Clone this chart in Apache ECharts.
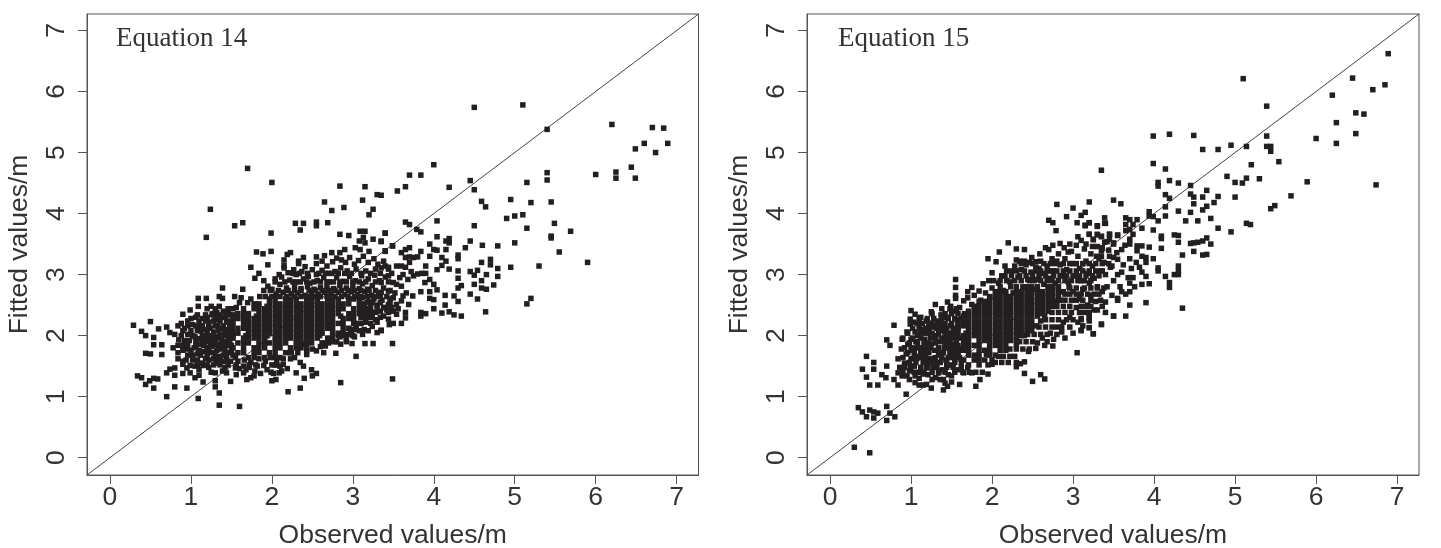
<!DOCTYPE html>
<html><head><meta charset="utf-8">
<style>html,body{margin:0;padding:0;background:#fff}#c{width:1441px;height:548px}</style>
<script src="https://cdn.jsdelivr.net/npm/echarts@6/dist/echarts.min.js"></script>
</head><body><div id="c"></div>
<script>
const tickLabels = [0,1,2,3,4,5,6,7];
const panelTitles = ['Equation 14','Equation 15'];
const xName = 'Observed values/m';
const yName = 'Fitted values/m';
const axisRange = [-0.284, 7.27];
const diagonal = [[-0.284,-0.284],[7.28,7.28]];

// Equation 14: scattered points [observed, fitted]
const scatter14 = [
[4.50,5.74],[5.10,5.78],[5.40,5.38],[6.20,5.46],[6.70,5.41],[6.84,5.40],[6.89,5.15],[6.60,5.15],[6.49,5.06],[6.74,5.00],[6.44,4.76],[6.49,4.58],[6.25,4.68],[6.25,4.58],[6.00,4.64],[5.40,4.67],[5.40,4.55],[5.15,4.51],[4.00,4.80],[3.84,4.63],[3.70,4.63],[3.65,4.44],[3.55,4.37],[3.35,4.30],[4.19,4.43],[4.45,4.54],[4.50,4.39],[4.59,4.20],[4.64,4.11],[4.95,4.23],[5.20,4.18],[5.45,4.19],[4.90,3.92],[5.00,3.96],[5.10,3.98],[5.15,3.76],[5.49,3.84],[5.69,3.71],[5.45,3.63],[5.45,3.60],[5.55,3.37],[5.90,3.20],[5.30,3.14],[5.20,2.61],[5.15,2.52],[4.95,3.12],[4.79,3.10],[4.79,2.97],[4.74,2.83],[4.79,3.47],[5.00,3.52],[4.60,3.48],[4.50,3.80],[4.04,3.88],[4.64,2.39],[4.54,2.60],[4.34,2.32],[4.25,2.34],
[1.70,4.74],[2.00,4.51],[2.84,4.45],[3.15,4.44],[3.30,4.31],[3.12,4.22],[1.24,4.07],[1.19,3.61],[1.54,3.80],[1.64,3.85],[2.65,4.19],[2.74,4.05],[2.89,4.10],[3.25,4.07],[3.20,3.98],[2.29,3.84],[2.39,3.84],[2.35,3.73],[2.55,3.86],[2.55,3.80],[2.69,3.85],[1.99,3.68],[2.84,3.66],[2.95,3.64],[3.09,3.71],[3.15,3.71],[3.40,3.68],[3.35,3.55],[3.25,3.58],[3.13,3.61],[3.08,3.55],[3.15,3.52],[3.03,3.44],[3.09,3.41],[3.20,3.38],[3.40,3.38],[3.49,3.47],[2.90,3.41],[2.84,3.36],[2.74,3.36],[2.65,3.31],[2.55,3.29],[2.39,3.28],[2.23,3.36],[2.19,3.33],[1.99,3.38],[1.89,3.34],[1.81,3.37],[1.95,3.16],[1.74,3.12],[1.84,3.02],[1.79,2.94],[2.15,3.15],[2.15,3.11],[2.33,3.22],[2.09,3.00],[2.04,2.93],[1.90,2.90],[1.95,2.81],[1.39,2.78],[1.64,2.76],[1.09,2.61],[1.19,2.61],[1.09,2.48],[0.99,2.42],[0.90,2.35],[1.35,2.64],[1.39,2.61],[1.25,2.48],[1.35,2.48],[1.54,2.64],[1.62,2.62],[1.74,2.60],[1.85,2.64],
[0.50,2.23],[0.29,2.17],[0.60,2.11],[0.70,2.14],[0.39,2.07],[0.44,2.00],[0.54,1.97],[0.54,1.85],[0.64,1.85],[0.74,2.05],[0.44,1.71],[0.50,1.70],[0.64,1.69],[0.34,1.34],[0.39,1.31],[0.54,1.30],[0.59,1.29],[0.49,1.26],[0.44,1.20],[0.54,1.14],[0.80,1.16],[0.95,1.14],[0.70,1.00],[1.09,0.97],[1.35,0.86],[1.60,0.84],[1.35,1.06],[1.30,1.16],[2.20,1.08],[2.35,1.14],[2.85,1.23],[3.49,1.29],[3.04,1.66],[3.49,1.87],[2.79,1.71],[3.25,1.87],[3.15,1.87],[3.35,2.08],[3.30,2.05],[3.19,2.08],[2.99,1.87],
[0.70,1.39],[0.74,1.45],[0.80,1.47],[0.80,1.35],[0.90,1.53],[0.90,1.38],[0.95,1.47],[0.99,1.51],[0.99,1.39],[1.05,1.50],[1.05,1.31],[1.10,1.35],[1.15,1.24],[1.15,1.51],[1.25,1.40],[1.30,1.39],[1.30,1.26],[1.39,1.42],[1.44,1.39],[1.49,1.25],[1.55,1.47],[1.65,1.50],[1.65,1.39],[1.69,1.28],[1.74,1.31],[1.79,1.42],[1.90,1.51],[1.99,1.40],[2.00,1.26],[2.05,1.28],[2.09,1.39],[2.10,1.50],[2.14,1.53],[2.19,1.46],[2.30,1.39],[2.40,1.30],[2.39,1.50],[2.35,1.56],[2.49,1.44],[2.50,1.34],[2.55,1.38],[2.23,1.62],[2.43,1.69],[2.55,1.75],[2.64,1.72],[2.66,1.83],[2.43,1.75],[2.85,1.86],[2.92,1.95],[3.02,1.98],[3.12,2.02],
[3.35,3.54],[3.40,3.68],[3.49,3.47],[3.40,3.39],[3.65,3.86],[3.70,3.82],[3.79,3.74],[3.84,3.70],[4.04,3.62],[4.15,3.55],[4.19,3.59],[4.19,3.52],[4.45,3.55],[4.39,3.44],[3.95,3.50],[4.00,3.41],[4.04,3.40],[4.15,3.41],[3.84,3.38],[3.70,3.44],[3.65,3.41],[3.60,3.36],[3.65,3.28],[3.70,3.29],[3.75,3.28],[3.80,3.29],[3.95,3.30],[4.10,3.28],[4.15,3.22],[4.30,3.32],[4.30,3.26],[4.70,3.25],[4.70,3.16],[4.59,3.20],[4.10,3.15],[3.90,3.14],[4.04,3.08],[4.19,3.09],[4.30,3.06],[4.45,3.05],[4.54,3.07],[4.65,3.00],[4.50,2.99],[4.30,2.94],[4.59,2.90],[4.50,2.84],[4.34,2.82],[4.30,2.78],[4.59,2.78],[4.65,2.76],[4.04,2.75],[3.95,2.72],[3.84,2.72],[3.74,2.65],[4.14,2.66],[4.25,2.65],[4.45,2.68],[4.30,2.56],[3.95,2.61],[4.00,2.59],[4.14,2.50],[4.00,2.44],[4.10,2.37],[4.19,2.39],[3.84,2.38],[3.90,2.36],[3.84,2.32],[3.65,2.38],[3.65,2.29],[3.60,2.20],[3.35,2.09],[3.75,2.98],[3.80,3.01],[3.85,3.02],[3.90,3.02],[3.95,2.92],[3.89,2.87],[4.00,2.84],[3.54,3.14],[3.60,3.14],[3.65,3.12],[3.70,3.20],[3.40,3.14],[3.44,3.09],[3.44,2.98],[3.35,3.11],[3.50,2.87],[3.54,2.84],[3.60,2.81],[3.35,2.87],[3.35,2.71],[3.44,2.73],[3.50,2.62],[3.60,2.57],[3.54,2.51],[3.69,2.51],[3.44,2.51],[3.50,2.40],[3.44,2.27],[3.54,2.35],[3.72,3.05],[3.58,2.95],[3.66,2.70],[3.62,2.65],[3.56,2.44],[3.42,2.42],[3.38,2.32],[3.30,2.22],[3.24,2.15],[3.45,2.18],[3.50,2.20],[3.68,2.92],[3.62,3.00],[3.48,3.02],[3.52,2.70],[3.46,2.60]
];
// Equation 14: top of the cloud
const upper14 = [[2.15,3.24],[2.33,3.18],[2.41,3.13],[2.27,3.08],[2.20,3.03],[2.30,3.00],[2.37,3.05],[2.45,2.97],[2.55,3.18],[2.62,3.22],[2.68,3.14],[2.75,3.21],[2.80,3.27],[2.86,3.24],[2.91,3.20],[2.96,3.28],[3.02,3.17],[3.07,3.23],[3.13,3.30],[3.19,3.20],[3.26,3.26],[3.31,3.17],[3.38,3.22],[3.44,3.12],[3.28,3.09],[3.16,3.06],[3.04,3.09],[2.93,3.06],[2.85,3.11],[2.78,3.05],[2.70,3.02],[2.62,3.07],[2.55,3.00],[2.50,3.08],[2.12,2.96],[2.22,2.91],[2.30,2.88],[2.39,2.93],[2.47,2.86],[2.56,2.90],[2.64,2.95],[2.71,2.88],[2.80,2.95],[2.88,2.89],[2.96,2.97],[3.03,2.90],[3.11,2.98],[3.19,2.93],[3.27,2.99],[3.33,2.90],[3.40,2.96],[3.12,2.85],[3.24,2.82],[3.00,2.81],[2.92,2.78],[2.84,2.82],[2.76,2.77],[2.68,2.80],[2.60,2.79],[2.52,2.76],[2.44,2.80],[2.36,2.77],[2.28,2.81],[2.18,2.78],[2.10,2.84],[2.00,2.76],[1.90,2.74],[2.05,2.68],[2.14,2.71],[2.24,2.69],[2.32,2.70],[2.41,2.66],[2.49,2.69],[2.57,2.68],[2.65,2.71],[2.73,2.68],[2.82,2.71],[2.90,2.67],[2.98,2.72],[3.06,2.67],[3.15,2.72],[3.23,2.66],[3.32,2.70],[3.38,2.78],[3.42,2.64],[3.08,2.77],[3.18,2.76],
[3.12,2.62],[3.20,2.56],[3.26,2.60],[3.30,2.50],[3.18,2.44],[3.24,2.38],[3.14,2.30],[3.20,2.30],[3.10,2.20],[3.16,2.22],[3.28,2.26],[3.04,2.14],[3.08,2.08],[3.34,2.40],[3.40,2.46],[3.36,2.58],[2.98,2.08],[2.94,2.02],[2.84,1.98],[2.78,1.90],[2.70,1.88],[2.60,1.82],[2.50,1.78],[2.40,1.86],[2.32,1.72],[2.28,1.64],[2.14,1.62],[2.24,1.72],
[1.58,1.58],[1.66,1.60],[1.74,1.56],[1.84,1.62],[1.92,1.58],[1.98,1.64],[2.06,1.60],[1.60,1.46],[1.72,1.48],[1.82,1.50],[1.94,1.44],[2.04,1.52],[2.12,1.42],[1.56,1.36],[1.68,1.44],[1.86,1.38],[1.78,1.34],[2.02,1.38]];
// Equation 14: left wing of the cloud
const wing14 = [[0.80,2.02],[0.85,1.93],[0.78,1.80],[0.84,1.72],[0.90,1.84],[0.92,2.12],[0.88,2.20],[0.96,2.02],[0.98,1.92],[1.02,2.18],[1.04,1.80],[0.96,1.68],[1.02,1.60],[0.90,1.58],[0.84,1.62],[1.08,1.70],[1.10,1.95],[1.08,2.08],[1.14,2.28],[1.12,1.86],[1.16,2.10],[1.18,2.00],[1.20,1.80],[1.18,1.62],[1.14,1.55],[1.22,2.22],[1.24,1.92],[1.26,1.72],[1.27,2.36],[1.28,2.06],[1.30,1.85],[1.31,1.55],[1.33,2.16],[1.35,1.96],[1.36,1.66],[1.37,2.30],[1.38,1.78],[1.40,2.40],[1.41,2.06],[1.42,1.48],[1.43,1.90],[1.44,2.22],[1.46,1.72],[1.47,2.00],[1.48,2.34],[1.49,1.58],[1.50,1.84],[1.51,2.12],[1.52,2.44],[1.10,1.44],[1.06,2.30],[1.22,1.48],[1.34,2.26],[1.16,1.74],[0.94,1.78],[1.00,2.28],[1.28,1.62],[1.40,1.58],[1.45,2.10],[1.38,2.12],[1.24,2.12],[1.12,2.16],[1.05,1.98],[1.20,2.30],[1.32,2.38],[1.42,2.30],[1.30,1.98],[1.36,1.86],[1.44,1.66],[1.48,1.92],[1.26,1.82],[1.18,1.90]];
// Equation 14: dark centre and its surroundings, one row per fitted value
const fitted14 = [2.60,2.52,2.44,2.36,2.28,2.20,2.12,2.04,1.96,1.88,1.80,1.72,1.64,
  3.02,2.88,2.74,2.64,2.54,2.46,2.38,2.30,2.20,2.10,2.00,1.90,
  2.44,2.34,2.24,2.16,2.08,2.00,1.92,1.84,1.76,1.68,1.60,1.52,
  2.48,2.32,2.16,2.00];
const observed14 = [
[1.97,2.04,2.17,2.23,2.30,2.43,2.49,2.56,2.69,2.75,2.82,2.95,3.01,3.08],
[1.78,1.84,1.97,2.04,2.10,2.17,2.23,2.30,2.36,2.43,2.49,2.56,2.62,2.69,2.75,2.82,2.88,2.95,3.08,3.14],
[1.65,1.78,1.84,1.91,1.97,2.04,2.10,2.17,2.23,2.30,2.36,2.43,2.49,2.56,2.62,2.69,2.75,2.82,2.88,3.01,3.08],
[1.58,1.65,1.71,1.84,1.91,1.97,2.04,2.10,2.17,2.23,2.30,2.36,2.43,2.49,2.56,2.62,2.69,2.75,2.82,2.95,3.01,3.08],
[1.52,1.58,1.65,1.71,1.78,1.84,1.91,1.97,2.04,2.10,2.17,2.23,2.30,2.36,2.43,2.49,2.56,2.62,2.69,2.75,2.88,2.95,3.01],
[1.52,1.65,1.71,1.78,1.84,1.91,1.97,2.04,2.10,2.17,2.23,2.30,2.36,2.43,2.49,2.56,2.62,2.69,2.75,2.82,2.88,3.01],
[1.58,1.65,1.71,1.78,1.84,1.91,1.97,2.04,2.10,2.17,2.23,2.30,2.36,2.43,2.49,2.56,2.62,2.69,2.75,2.88,2.95],
[1.52,1.58,1.71,1.78,1.84,1.91,1.97,2.04,2.10,2.17,2.23,2.30,2.36,2.43,2.49,2.56,2.62,2.75,2.82,2.88],
[1.52,1.65,1.71,1.78,1.84,1.91,2.04,2.10,2.17,2.23,2.30,2.36,2.43,2.49,2.56,2.69,2.75],
[1.58,1.65,1.71,1.84,1.91,1.97,2.04,2.10,2.17,2.30,2.36,2.43,2.49,2.62,2.65],
[1.52,1.65,1.78,1.84,1.91,2.04,2.10,2.23,2.30,2.36,2.43],
[1.58,1.65,1.78,1.84,1.97,2.04,2.17,2.23],
[1.55,1.71,1.78,1.91,2.10,2.04],
[2.26,2.34,2.44,2.58,2.66,2.74,2.82,2.90,2.98,3.10,3.22,3.34],
[2.04,2.16,2.26,2.35,2.43,2.52,2.60,2.68,2.76,2.84,2.92,3.00,3.08,3.16,3.28,3.44],
[1.98,2.08,2.20,2.28,2.36,2.46,2.54,2.62,2.70,2.78,2.86,2.94,3.02,3.10,3.20,3.28,3.46],
[1.92,2.00,2.10,2.18,2.28,2.36,2.46,2.53,2.60,2.68,2.78,2.86,2.94,3.02,3.10,3.18,3.28,3.34],
[1.60,1.70,3.18,3.24,3.34,3.46],
[1.56,3.14,3.22,3.30,3.38,3.48],
[1.46,3.12,3.18,3.28,3.44],
[1.40,1.30,3.10,3.16,3.24,3.34],
[3.04,3.10,3.22],
[2.98,3.04,3.14],
[2.82,2.90,3.00],
[2.72,2.80,2.92],
[1.20,1.30,1.46],
[1.08,1.18,1.26,1.36,1.44,1.52],
[0.96,1.10,1.18,1.28,1.36,1.46],
[0.84,0.96,1.06,1.14,1.22,1.30,1.40,1.48],
[0.90,1.00,1.12,1.20,1.34,1.44,1.50],
[0.88,1.02,1.14,1.24,1.36,1.42,1.52],
[0.92,1.06,1.14,1.20,1.30,1.38,1.46],
[0.84,0.96,1.06,1.16,1.24,1.34,1.42,1.46],
[0.90,1.00,1.10,1.22,1.32,1.42,1.50],
[1.02,1.12,1.20,1.30,1.40,1.52],
[0.94,1.08,1.22,1.34,1.44],
[1.08,1.20,1.28,1.36,1.46,1.56,1.72,1.80,2.00,2.06],
[1.81,1.94,2.07,2.20,2.33,2.46,2.59,2.72],
[1.68,1.81,1.94,2.07,2.20,2.33,2.46,2.59,2.72,2.85],
[1.68,1.81,1.94,2.07,2.20,2.33,2.46,2.59,2.72],
[1.68,1.81,1.94,2.07,2.20,2.33,2.46,2.59]
];

// Equation 15: scattered points [observed, fitted]
const scatter15 = [
[6.89,6.62],[6.45,6.22],[6.85,6.11],[6.70,6.03],[6.20,5.94],[6.49,5.65],[6.59,5.63],[6.25,5.49],[6.49,5.31],[6.25,5.15],[6.00,5.23],[6.74,4.47],[5.89,4.52],[5.69,4.29],[5.49,4.13],[5.44,4.08],[5.54,4.85],[5.39,5.76],[5.10,6.21],[5.39,5.27],[5.39,5.10],[5.44,5.10],[5.44,5.02],[5.20,4.80],[5.14,5.10],[4.95,5.12],[4.79,5.05],[4.60,5.05],[4.49,5.28],[4.19,5.30],[3.99,5.27],[3.99,4.82],[4.14,4.73],[3.35,4.71],[4.19,4.54],[4.05,4.51],[4.05,4.45],[4.30,4.50],[4.45,4.46],[4.90,4.61],[5.00,4.51],[5.09,4.50],[5.14,4.58],[5.30,4.57],[4.65,4.38],[4.45,4.32],[4.49,4.27],[4.60,4.27],[4.79,4.28],[5.00,4.27],[4.74,4.18],[4.49,4.16],[4.14,4.31],[4.19,4.25],[4.14,4.11],[4.65,4.12],[4.60,4.06],[4.45,4.02],[4.30,4.04],[4.14,3.96],[4.70,3.92],[4.54,3.88],[4.39,3.88],[4.05,3.88],[3.94,4.03],[3.94,3.96],[3.99,3.95],[5.14,3.84],[5.19,3.82],[4.79,3.76],[4.95,3.70],[3.99,3.73],[4.25,3.65],[4.30,3.64],[4.09,3.63],[4.09,3.59],[4.30,3.53],[4.09,3.43],[4.45,3.51],[4.49,3.52],[4.54,3.53],[4.60,3.55],[4.65,3.60],[4.70,3.50],[4.49,3.38],[4.60,3.32],[4.65,3.33],[4.35,3.32],[3.94,3.45],[3.99,3.26],[4.05,3.11],[4.05,3.06],[4.30,3.14],[4.30,3.06],[4.25,3.00],[4.30,3.00],[4.14,2.97],[4.19,2.87],[4.19,2.79],[3.94,2.85],[3.85,2.84],[3.74,2.95],[3.70,2.86],[3.90,2.97],[3.85,3.04],[3.90,2.54],[4.35,2.45],[3.70,2.50],[3.65,2.68],[3.65,2.32],[3.50,2.32],[3.35,2.19],[3.20,2.30],[3.20,2.13],[3.25,2.03],[3.10,2.09],[3.10,2.28],
[3.20,4.19],[3.50,4.22],[3.59,4.16],[3.65,3.93],[3.70,3.90],[3.79,3.90],[3.39,3.93],[3.39,3.84],[3.20,3.85],[3.15,3.80],[3.30,3.79],[3.65,3.82],[3.65,3.72],[3.74,3.82],[3.85,3.76],[3.70,3.74],[3.74,3.66],[3.20,3.66],[3.25,3.57],[3.30,3.65],[3.35,3.62],[3.45,3.66],[3.45,3.58],[3.55,3.64],[3.39,3.53],[3.50,3.52],[3.70,3.58],[3.64,3.48],[3.70,3.50],[3.79,3.47],[3.85,3.47],[3.60,3.41],[3.35,3.39],[3.54,3.36],[3.45,3.30],[3.35,3.30],[3.29,3.30],[3.70,3.26],[3.79,3.39],[3.85,3.30],[3.90,3.28],[3.90,3.20],[3.55,3.25],[3.62,3.16],[3.72,3.10],[3.60,3.04],[3.48,3.14],[3.55,3.00],[3.68,2.95],[3.78,3.20],[3.82,3.12],[3.50,2.90],[3.58,2.80],[3.42,2.80],[3.48,2.66],[3.55,2.58],[3.40,2.55],[3.30,2.42],[3.36,2.48],[3.60,2.72],[3.70,2.72],[3.76,2.80],
[0.30,0.17],[0.49,0.08],[0.35,0.82],[0.40,0.75],[0.45,0.67],[0.49,0.78],[0.54,0.75],[0.59,0.73],[0.54,0.65],[0.70,0.84],[0.74,0.73],[0.80,0.67],[0.70,0.61],[0.94,1.04],[0.45,1.66],[0.40,1.45],[0.54,1.56],[0.54,1.45],[0.45,1.32],[0.49,1.19],[0.59,1.19],[0.70,1.50],[0.64,1.36],[0.69,1.31],[0.79,2.17],[0.70,1.93],[0.74,1.84],[0.89,1.94],[1.00,2.41],[1.05,2.35],[0.99,2.27],[0.99,2.19],[0.95,2.06],[1.05,2.06],[1.00,1.94],[1.25,2.39],[1.30,2.51],[1.14,2.20],[1.19,2.24],[1.26,2.20],[1.30,2.16],[1.40,2.19],[1.45,2.55],[1.49,2.48],[1.55,2.92],[1.55,2.79],[1.55,2.66],[1.55,2.61],[1.65,2.57],[1.70,2.62],[1.75,2.79],[1.75,2.51],[1.84,2.73],[1.89,2.85],[1.95,3.26],[2.05,3.21],[2.00,3.03],[2.09,3.37],[2.20,3.52],[2.30,3.42],[2.40,3.41],[2.30,3.24],[2.40,3.22],[2.49,3.28],[2.59,3.34],[2.54,3.21],[2.70,3.41],[2.75,3.48],[2.84,3.51],[2.89,3.44],[2.94,3.37],[2.70,3.89],[2.75,3.85],[2.79,3.72],[3.05,3.85],[3.15,3.81],[3.20,3.85],[3.30,3.80],[3.40,3.84],[3.20,3.66],[3.25,3.58],[3.30,3.66],[3.35,3.63],[3.45,3.66],[3.55,3.65],[3.50,3.50],[2.80,4.15],[3.00,4.09],[2.92,3.95],[3.10,3.97],[3.15,4.02],
[0.79,1.28],[0.84,1.19],[1.05,1.23],[1.10,1.19],[1.15,1.19],[1.19,1.20],[1.25,1.14],[1.40,1.11],[1.45,1.17],[1.60,1.20],[1.80,1.17],[1.85,1.28],[1.95,1.37],[1.65,1.39],[1.75,1.39],[2.40,1.38],[2.30,1.49],[2.35,1.54],[2.40,1.57],[2.50,1.25],[2.60,1.36],[2.65,1.29],[3.05,1.72],[2.65,1.84],[2.75,1.83],[2.54,1.79],[2.45,1.74],[2.90,1.96],[3.00,2.04],[3.10,2.08],[3.20,2.13],[3.25,2.03],[3.35,2.18],[3.20,2.29],[3.20,2.24],[3.50,2.32],[3.40,2.38],[3.55,2.61],[2.00,1.53],[1.93,1.69],[1.36,1.28],[1.30,1.31],[1.40,1.28],[1.50,1.34],[1.34,1.39],[1.15,1.37],[1.05,1.34],[0.95,1.34],[0.84,1.39],[0.89,1.34],[1.19,1.47],[0.99,1.50]
];
// Equation 15: top and lower right of the cloud
const upper15 = [[1.70,2.72],[1.78,2.66],[1.86,2.58],[1.92,2.70],[1.96,2.90],[2.00,2.78],[2.04,2.62],[2.08,2.86],[2.12,2.98],[2.14,2.74],[2.18,3.06],[2.22,2.88],[2.26,2.70],[2.28,3.14],[2.32,2.96],[2.36,3.08],[2.38,2.80],[2.42,3.16],[2.44,2.92],[2.48,3.04],[2.50,2.76],[2.54,3.12],[2.56,2.92],[2.60,3.22],[2.62,3.02],[2.64,2.84],[2.68,3.14],[2.70,2.94],[2.74,3.26],[2.76,3.06],[2.78,2.86],[2.82,3.34],[2.84,3.16],[2.86,2.98],[2.90,3.26],[2.92,3.08],[2.94,2.88],[2.98,3.38],[3.00,3.18],[3.02,2.98],[3.06,3.30],[3.08,3.10],[3.10,2.90],[3.14,3.42],[3.16,3.22],[3.18,3.02],[3.22,3.34],[3.24,3.14],[3.26,2.94],[3.30,3.46],[3.32,3.26],[3.34,3.06],[3.38,3.20],[3.40,3.00],[3.44,3.40],[3.46,3.12],[3.50,3.28],[3.04,3.48],[3.10,3.56],[3.16,3.50],[3.06,3.62],[2.96,3.50],[3.24,3.46],[3.36,3.44],[3.42,3.54],[2.66,3.44],[2.80,3.22],[2.72,3.06],[2.58,3.10],[2.46,3.20],[2.34,3.22],[2.16,3.14],[3.20,2.86],[3.30,2.80],[3.12,2.76],[3.22,2.66],[3.28,2.56],[3.36,2.72],[3.18,2.50],[3.08,2.60],[3.00,2.72],[3.26,2.42],[3.14,2.38],[3.04,2.46],[2.96,2.30],[3.06,2.22],[3.12,2.16],[2.88,2.22],[2.96,2.14],[2.80,2.14],[2.86,2.06],[2.72,2.04],[2.76,1.94],[2.62,1.96],[2.56,1.88]];
// Equation 15: left wing of the cloud
const wing15 = [[0.84,1.62],[0.88,1.78],[0.86,1.48],[0.92,1.55],[0.94,1.70],[0.96,1.86],[0.98,1.42],[1.00,1.62],[1.02,1.76],[1.04,1.50],[1.06,1.90],[1.08,2.00],[1.09,1.66],[1.10,1.40],[1.12,1.80],[1.14,2.10],[1.15,1.56],[1.17,1.94],[1.18,1.72],[1.20,2.28],[1.21,1.36],[1.22,2.04],[1.24,1.62],[1.25,1.86],[1.27,1.48],[1.28,2.14],[1.29,1.76],[1.31,2.00],[1.32,1.56],[1.33,2.24],[1.35,1.68],[1.36,1.90],[1.37,2.34],[1.39,1.44],[1.40,2.08],[1.41,1.80],[1.43,1.60],[1.44,2.30],[1.45,1.96],[1.46,1.36],[1.48,1.72],[1.49,2.16],[1.50,1.52],[1.52,2.40],[1.53,1.86],[1.54,2.04],[1.55,1.64],[1.57,2.26],[1.58,1.44],[1.59,1.76],[1.60,2.46],[1.62,1.96],[1.03,2.22],[1.12,2.30],[1.18,2.12],[1.26,1.28],[1.34,1.42],[1.42,1.22],[1.50,1.24],[1.07,1.62],[0.98,1.28],[1.10,1.30]];
// Equation 15: dark centre and its surroundings, one row per fitted value
const fitted15 = [2.80,2.72,2.64,2.56,2.48,2.40,2.32,2.24,2.16,2.08,2.00,1.92,1.84,1.76,1.68,1.60,1.52,
  2.90,2.98,3.06,3.18,2.78,2.68,2.58,2.48,2.38,2.26,2.14,2.02,1.90,1.78,1.66,1.56,
  2.44,2.36,2.28,2.20,2.12,2.04,1.96,1.88,1.80,1.72,1.64,1.56,1.48,1.40,
  2.52,2.36,2.20,2.04];
const observed15 = [
[2.10,2.23,2.30,2.43,2.49,2.56,2.69,2.75,2.82,2.95],
[2.04,2.10,2.17,2.30,2.36,2.43,2.49,2.56,2.62,2.69,2.75,2.82,2.88],
[1.97,2.04,2.10,2.17,2.23,2.30,2.36,2.43,2.49,2.56,2.62,2.69,2.75,2.82],
[1.84,1.91,1.97,2.04,2.10,2.17,2.23,2.30,2.36,2.43,2.49,2.56,2.62,2.69,2.75,2.80],
[1.78,1.84,1.91,1.97,2.04,2.10,2.17,2.23,2.30,2.36,2.43,2.49,2.56,2.62,2.69,2.75],
[1.71,1.78,1.84,1.91,1.97,2.04,2.10,2.17,2.23,2.30,2.36,2.43,2.49,2.56,2.62,2.69],
[1.65,1.71,1.78,1.84,1.91,1.97,2.04,2.10,2.17,2.23,2.30,2.36,2.43,2.49,2.56,2.65],
[1.58,1.65,1.71,1.78,1.84,1.91,1.97,2.04,2.10,2.17,2.23,2.30,2.36,2.43,2.49,2.60],
[1.58,1.65,1.71,1.78,1.84,1.91,1.97,2.04,2.10,2.17,2.23,2.30,2.36,2.43,2.49,2.55],
[1.58,1.71,1.78,1.84,1.91,1.97,2.04,2.10,2.17,2.23,2.30,2.36,2.43,2.49],
[1.58,1.65,1.71,1.78,1.84,1.91,1.97,2.04,2.10,2.17,2.23,2.30,2.36,2.40],
[1.65,1.71,1.84,1.91,1.97,2.04,2.10,2.17,2.23,2.30],
[1.58,1.65,1.71,1.78,1.84,1.97,2.04,2.10,2.17,2.30],
[1.65,1.71,1.84,1.91,1.97,2.10,2.17],
[1.58,1.71,1.78,1.84,1.97,2.04],
[1.65,1.78,1.84,1.91,2.00],
[1.71,1.84,1.95],
[2.02,2.10,2.18,2.28,2.36,2.46,2.52,2.60,2.68,2.74,2.82,2.90,2.98,3.06,3.14,3.22],
[2.16,2.24,2.34,2.42,2.50,2.58,2.66,2.76,2.84,2.92,3.00,3.08,3.16,3.24,3.32],
[2.24,2.30,2.40,2.54,2.60,2.68,2.74,2.80,2.88,2.96,3.04,3.12,3.20,3.28,3.36],
[2.36,2.50,2.64,2.72,2.78,2.88,2.96,3.04,3.12,3.20,3.28,3.36,3.44],
[2.96,3.04,3.14,3.22,3.30,3.38],
[2.90,2.96,3.04,3.10,3.18,3.26,3.32],
[2.84,2.90,2.98,3.04,3.12,3.22,3.34],
[2.80,2.88,2.96,3.10,3.16,3.22],
[2.74,2.82,2.90,2.98,3.08,3.20],
[2.66,2.74,2.82,2.92,3.00,3.10],
[2.58,2.66,2.74,2.86],
[2.44,2.52,2.60,2.68,2.80],
[2.34,2.42,2.50,2.68],
[2.22,2.30,2.38,2.46],
[2.08,2.14,2.22,2.28],
[2.04,2.12,2.20,2.30],
[1.38,1.48,1.56],
[1.26,1.42,1.50,1.58,1.66],
[1.10,1.28,1.38,1.46,1.54,1.62],
[1.08,1.22,1.34,1.42,1.50,1.58],
[1.02,1.10,1.22,1.32,1.38,1.44,1.52,1.58],
[0.96,1.12,1.18,1.26,1.34,1.42,1.48,1.56],
[0.90,1.02,1.12,1.24,1.30,1.38,1.44,1.50,1.56],
[0.98,1.08,1.16,1.22,1.30,1.42,1.48,1.56],
[0.92,1.00,1.06,1.18,1.24,1.34,1.46,1.52,1.58],
[0.96,1.04,1.12,1.22,1.34,1.40,1.52,1.58],
[0.90,1.04,1.12,1.18,1.30,1.38,1.46,1.52,1.60],
[0.98,1.06,1.20,1.26,1.36,1.44,1.54,1.62],
[0.92,1.00,1.12,1.20,1.32,1.44,1.52,1.62,1.70],
[0.90,1.04,1.16,1.26,1.42,1.54,1.64,1.72,1.80,1.88],
[1.94,2.07,2.20,2.33,2.46,2.59,2.72],
[1.81,1.94,2.07,2.20,2.33,2.46,2.59],
[1.68,1.81,1.94,2.07,2.20,2.33,2.46],
[1.68,1.81,1.94,2.07,2.20,2.33]
];

const toPairs = (ys, rows) => rows.flatMap((xs, i) => xs.map(x => [x, ys[i]]));
const points14 = scatter14.concat(upper14, wing14, toPairs(fitted14, observed14));
const points15 = scatter15.concat(upper15, wing15, toPairs(fitted15, observed15));

const ink = '#231f20', frame = '#555555', text = '#333333';
const sansFont = '"Liberation Sans", Arial, sans-serif';
const axisCommon = {
  type: 'value', min: axisRange[0], max: axisRange[1],
  splitLine: { show: false }, nameLocation: 'middle',
  nameTextStyle: { fontFamily: sansFont, fontSize: 26.5, color: text },
  axisLine: { show: true, onZero: false, lineStyle: { color: frame, width: 1 } },
  axisTick: { show: true, length: 9, inside: false, customValues: tickLabels, lineStyle: { color: frame, width: 1 } },
  axisLabel: { show: true, customValues: tickLabels, fontFamily: sansFont, fontSize: 26.5, color: text, showMinLabel: true, showMaxLabel: true }
};
const grids = [
  { left: 87, top: 14, width: 611.5, height: 461, outerBoundsMode: 'none' },
  { left: 807, top: 14, width: 612, height: 461, outerBoundsMode: 'none' }
];
const xAxes = [0, 1].map(i => Object.assign({}, axisCommon, {
  gridIndex: i, name: xName, nameGap: 47,
  axisLabel: Object.assign({}, axisCommon.axisLabel, { margin: 9 })
}));
const yAxes = [0, 1].map(i => Object.assign({}, axisCommon, {
  gridIndex: i, name: yName, nameGap: 54,
  axisLabel: Object.assign({}, axisCommon.axisLabel, { rotate: 90, margin: 17 })
}));
const option = {
  animation: false,
  backgroundColor: '#ffffff',
  title: panelTitles.map((t, i) => ({
    text: t, left: i === 0 ? 111 : 833, top: 20,
    textStyle: { fontFamily: '"Liberation Serif", serif', fontSize: 27, fontWeight: 'normal', color: text }
  })),
  grid: grids.map(g => Object.assign({ show: true, borderColor: frame, borderWidth: 1, backgroundColor: 'transparent' }, g)),
  xAxis: xAxes, yAxis: yAxes,
  series: [points14, points15].flatMap((pts, i) => [
    { type: 'line', xAxisIndex: i, yAxisIndex: i, data: diagonal, symbol: 'none', silent: true, lineStyle: { color: '#444444', width: 1 }, z: 1 },
    { type: 'scatter', xAxisIndex: i, yAxisIndex: i, data: pts, symbol: 'rect', symbolSize: 5.5, itemStyle: { color: ink, opacity: 1 }, silent: true, z: 2 }
  ])
};
echarts.init(document.getElementById('c'), null, { renderer: 'canvas' }).setOption(option);
</script></body></html>
